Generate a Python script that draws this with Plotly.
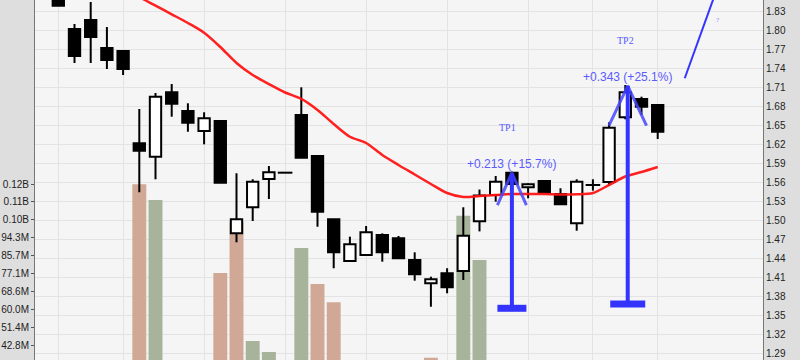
import plotly.graph_objects as go

# ---------------- data ----------------
IDX = list(range(38))
OPEN = [1.860, 1.8027, 1.8169, 1.7727, 1.768, 1.6222, 1.601, 1.7027, 1.6732, 1.6416,
        1.6574, 1.480, 1.5212, 1.5659, 1.5758, 1.6669, 1.6022, 1.5022, 1.4364, 1.4459,
        1.4774, 1.4722, 1.438, 1.4011, 1.417, 1.4206, 1.4991, 1.5406, 1.5758, 1.5527,
        1.5627, 1.5422, 1.4959, 1.5564, 1.5611, 1.6633, 1.6922, 1.6827]
HIGH = [1.868, 1.8106, 1.8453, 1.8058, 1.768, 1.6764, 1.7016, 1.7158, 1.6854, 1.6712,
        1.6574, 1.5749, 1.5654, 1.5864, 1.5758, 1.7106, 1.6022, 1.5022, 1.4748, 1.4916,
        1.480, 1.4759, 1.4501, 1.4116, 1.4249, 1.5212, 1.5492, 1.5706, 1.5775, 1.559,
        1.5627, 1.5512, 1.5654, 1.5654, 1.6553, 1.7142, 1.6958, 1.6827]
LOW = [1.8395, 1.749, 1.749, 1.7395, 1.730, 1.5449, 1.5654, 1.6642, 1.6405, 1.6206,
       1.560, 1.4659, 1.4995, 1.5343, 1.5758, 1.5995, 1.4905, 1.4249, 1.4364, 1.4459,
       1.4353, 1.4406, 1.4053, 1.3642, 1.3854, 1.4064, 1.4831, 1.530, 1.555, 1.5354,
       1.5442, 1.5259, 1.4842, 1.5474, 1.5548, 1.6601, 1.6669, 1.629]
CLOSE = [1.8395, 1.7601, 1.790, 1.7537, 1.7395, 1.6105, 1.6958, 1.6847, 1.6547, 1.6617,
         1.560, 1.5022, 1.5616, 1.5764, 1.5758, 1.5995, 1.5142, 1.4501, 1.4628, 1.4817,
         1.4501, 1.4406, 1.4154, 1.4075, 1.3949, 1.4763, 1.5397, 1.5616, 1.558, 1.5575,
         1.5442, 1.5259, 1.5616, 1.5564, 1.6468, 1.7027, 1.680, 1.6405]
VOLUME_M = [31, 33, 29, 27, 30, 119.9, 112.3, 34, 28, 25,
            77.3, 101.9, 44.8, 39.5, 22, 89.3, 72.1, 63.4, 30, 26,
            24, 27, 32, 36.8, 33, 104.8, 83.6, 34, 31, 27,
            23, 25, 33, 20, 35, 34, 28, 26]
MA = [None, None, None, 1.8879, 1.869, 1.8532, 1.8396, 1.8259, 1.8122, 1.7968,
      1.7743, 1.749, 1.730, 1.7158, 1.7024, 1.6922, 1.6748, 1.6527, 1.6326, 1.6227,
      1.6037, 1.588, 1.573, 1.558, 1.5437, 1.5374, 1.539, 1.5406, 1.5422, 1.5422,
      1.5422, 1.5414, 1.5417, 1.5437, 1.5564, 1.5698, 1.5769, 1.5848]

WEEK_STARTS = [0, 4, 9, 14, 19, 24, 29, 33, 37]

PRICE_TICKS = [1.29, 1.32, 1.35, 1.38, 1.41, 1.44, 1.47, 1.50, 1.53, 1.56, 1.59,
               1.62, 1.65, 1.68, 1.71, 1.74, 1.77, 1.80, 1.83]
VOL_TICKS_M = [42.857, 51.429, 60.0, 68.571, 77.143, 85.714, 94.286, 102.857, 111.429, 120.0]
VOL_TICK_TEXT = ["42.8M", "51.4M", "60.0M", "68.6M", "77.1M", "85.7M", "94.3M",
                 "0.10B", "0.11B", "0.12B"]

TP_X = [28, 35.15]
TP_BASE = [1.3617, 1.3685]
TP_TARGET = [1.5757, 1.7130]
TP_NAMES = ["TP1", "TP2"]
TP_LABELS = ["+0.213 (+15.7%)", "+0.343 (+25.1%)"]

TREND_X = [38.67, 40.82]
TREND_Y = [1.7249, 1.8774]
NOTE_X = [40.7]
NOTE_Y = [1.8169]
NOTE_TEXT = ["?"]

# ---------------- styles ----------------
GREEN = "#a7b39a"
SALMON = "#d1a796"
BLUE = "#3434ff"
BLUE_ARM = "rgba(70,70,255,0.85)"
TEXT_BLUE = "#5a5aff"
TP_BAR_HALF = [0.895, 1.08]
TP_ARM_HALF = [0.895, 1.16]
TP_ARM_DROP = [0.051, 0.063]

fig = go.Figure()

# volume bars (base axis, drawn beneath price overlay)
vol_colors = []
for i in IDX:
    prev = CLOSE[i - 1] if i > 0 else OPEN[i]
    vol_colors.append(GREEN if CLOSE[i] >= prev else SALMON)
fig.add_trace(go.Bar(x=IDX, y=[v * 1e6 for v in VOLUME_M], width=0.86,
                     marker=dict(color=vol_colors, line=dict(width=0)),
                     yaxis="y", hoverinfo="skip"))

# candle bodies
up = [i for i in IDX if CLOSE[i] > OPEN[i]]
dn = [i for i in IDX if CLOSE[i] < OPEN[i]]
fig.add_trace(go.Bar(x=up, base=[OPEN[i] for i in up], y=[CLOSE[i] - OPEN[i] for i in up],
                     width=0.70, marker=dict(color="white", line=dict(color="black", width=2)),
                     yaxis="y2", hoverinfo="skip"))
fig.add_trace(go.Bar(x=dn, base=[CLOSE[i] for i in dn], y=[OPEN[i] - CLOSE[i] for i in dn],
                     width=0.70, marker=dict(color="black", line=dict(color="black", width=2)),
                     yaxis="y2", hoverinfo="skip"))

# wicks (split above/below body so they never cross white bodies)
wx, wy = [], []
for i in IDX:
    top = max(OPEN[i], CLOSE[i])
    bot = min(OPEN[i], CLOSE[i])
    if HIGH[i] > top:
        wx += [i, i, None]
        wy += [top, HIGH[i], None]
    if LOW[i] < bot:
        wx += [i, i, None]
        wy += [LOW[i], bot, None]
# doji ticks
for i in IDX:
    if CLOSE[i] == OPEN[i]:
        wx += [i - 0.45, i + 0.45, None]
        wy += [OPEN[i], OPEN[i], None]
fig.add_trace(go.Scatter(x=wx, y=wy, mode="lines", line=dict(color="black", width=2),
                         yaxis="y2", hoverinfo="skip"))

# moving average
fig.add_trace(go.Scatter(x=IDX, y=MA, mode="lines",
                         line=dict(color="rgba(255,20,20,0.95)", width=2.5, shape="spline", smoothing=0.8),
                         yaxis="y2", hoverinfo="skip"))

# target-price markers
for k in range(len(TP_X)):
    x0 = TP_X[k]
    arm_x = [x0 - TP_ARM_HALF[k], x0, x0 + TP_ARM_HALF[k]]
    arm_y = [TP_TARGET[k] - TP_ARM_DROP[k], TP_TARGET[k], TP_TARGET[k] - TP_ARM_DROP[k]]
    fig.add_trace(go.Scatter(x=arm_x, y=arm_y, mode="lines", line=dict(color=BLUE_ARM, width=3),
                             yaxis="y2", hoverinfo="skip"))
    fig.add_trace(go.Scatter(x=[x0, x0], y=[TP_BASE[k], TP_TARGET[k]], mode="lines",
                             line=dict(color=BLUE, width=4), yaxis="y2", hoverinfo="skip"))
    fig.add_trace(go.Scatter(x=[x0 - TP_BAR_HALF[k], x0 + TP_BAR_HALF[k]], y=[TP_BASE[k], TP_BASE[k]],
                             mode="lines", line=dict(color=BLUE, width=7), yaxis="y2", hoverinfo="skip"))
    fig.add_annotation(x=x0, y=TP_TARGET[k], xref="x", yref="y2", text=TP_LABELS[k],
                       showarrow=False, yshift=8.5, xshift=0,
                       font=dict(family="Liberation Sans", size=12, color=TEXT_BLUE))
    fig.add_annotation(x=x0, y=TP_TARGET[k], xref="x", yref="y2", text=TP_NAMES[k],
                       showarrow=False, yshift=45, xshift=-4 if k == 0 else -2,
                       font=dict(family="Liberation Serif", size=10, color=TEXT_BLUE))

# trend line at top right
fig.add_trace(go.Scatter(x=TREND_X, y=TREND_Y, mode="lines", line=dict(color=BLUE, width=2),
                         yaxis="y2", hoverinfo="skip"))
for xx, yy, tt in zip(NOTE_X, NOTE_Y, NOTE_TEXT):
    fig.add_annotation(x=xx, y=yy, xref="x", yref="y2", text=tt, showarrow=False,
                       font=dict(family="Liberation Serif", size=7, color="#8a8aff"))

# ---------------- layout ----------------
px_per_candle = 16.2
x_left = (35 - 58.3) / px_per_candle
x_right = (763 - 58.3) / px_per_candle
price_per_px = 0.03 / 19
p_top = 1.83 + 11.7 * price_per_px
p_bot = 1.83 - (360 - 11.7) * price_per_px
vol_per_px = (120.0 - 42.857) / (345 - 184)
v_bot = 42.857 - (360 - 345) * vol_per_px
v_top = 42.857 + 345 * vol_per_px

fig.update_layout(
    width=800, height=360,
    margin=dict(l=35, r=37, t=0, b=0, pad=0),
    paper_bgcolor="#dedede",
    plot_bgcolor="#f5f5f5",
    showlegend=False,
    barmode="overlay",
    hovermode=False,
    xaxis=dict(range=[x_left, x_right], tickvals=WEEK_STARTS, showticklabels=False,
               showgrid=True, gridcolor="#e3e3e3", gridwidth=1, zeroline=False, ticks=""),
    yaxis=dict(range=[v_bot * 1e6, v_top * 1e6], side="left",
               tickvals=[v * 1e6 for v in VOL_TICKS_M], ticktext=VOL_TICK_TEXT,
               showgrid=False, zeroline=False, ticks="outside", ticklen=3,
               tickcolor="#555", showline=True, linecolor="#777", linewidth=1,
               tickfont=dict(family="Liberation Sans", size=10, color="#222")),
    yaxis2=dict(range=[p_bot, p_top], side="right", overlaying="y",
                tickvals=PRICE_TICKS, ticktext=["%.2f" % t for t in PRICE_TICKS],
                showgrid=True, gridcolor="#e3e3e3", gridwidth=1, zeroline=False,
                ticks="", showline=True, linecolor="#777", linewidth=1,
                tickfont=dict(family="Liberation Sans", size=10, color="#222")),
)

fig.write_html("out.html")
